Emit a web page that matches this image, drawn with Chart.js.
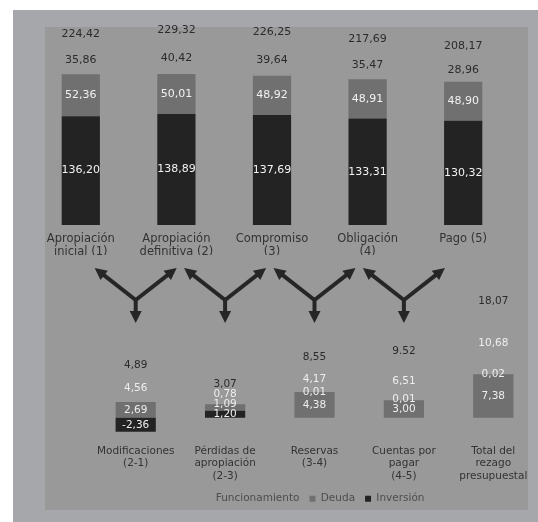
<!DOCTYPE html>
<html>
<head>
<meta charset="utf-8">
<script src="https://cdn.jsdelivr.net/npm/chart.js@4/dist/chart.umd.min.js"></script>
<style>
  body { margin: 0; background: #ffffff; width: 538px; height: 522px; overflow: hidden; position: relative; }
  #frame { position: absolute; left: 13px; top: 10px; width: 525px; height: 512px; background: #a6a7ab; }
  #panel { position: absolute; left: 45px; top: 27px; width: 483px; height: 483px; background: #999999; }
  #top_wrap { position: absolute; left: 0; top: 0; width: 538px; height: 262px; }
  #bottom_wrap { position: absolute; left: 0; top: 255px; width: 560px; height: 267px; }
</style>
</head>
<body>
<div id="frame"></div>
<div id="panel"></div>
<div id="top_wrap"><canvas id="top_chart"></canvas></div>
<div id="bottom_wrap"><canvas id="bottom_chart"></canvas></div>
<script>
// execution stages (billions)
const top_categories = [['Apropiación', 'inicial (1)'], ['Apropiación', 'definitiva (2)'], ['Compromiso', '(3)'], ['Obligación', '(4)'], ['Pago (5)']];
const top_inversion = [136.20, 138.89, 137.69, 133.31, 130.32];
const top_deuda = [52.36, 50.01, 48.92, 48.91, 48.90];
const top_funcionamiento = [35.86, 40.42, 39.64, 35.47, 28.96];
const top_totals = ['224,42', '229,32', '226,25', '217,69', '208,17'];

// differences between stages
const bottom_categories = [['Modificaciones', '(2-1)'], ['Pérdidas de', 'apropiación', '(2-3)'], ['Reservas', '(3-4)'], ['Cuentas por', 'pagar', '(4-5)'], ['Total del', 'rezago', 'presupuestal']];
const bottom_inversion = [-2.36, 1.20, 4.38, 3.00, 7.38];
const bottom_deuda = [2.69, 1.09, 0.01, 0.01, 0.02];
const bottom_funcionamiento = [4.56, 0.78, 4.17, 6.51, 10.68];
const bottom_totals = ['4,89', '3,07', '8,55', '9.52', '18,07'];

const panel_bg = '#999999';
const deuda_color = '#707070';
const inversion_color = '#232323';

const fmt = v => v.toFixed(2).replace('.', ',');

// writes the value of every segment and the total over each stack
const value_labels = {
    id: 'value_labels',
    afterDatasetsDraw(chart, args, opts) {
        const ctx = chart.ctx;
        ctx.save();
        ctx.font = opts.font;
        ctx.textAlign = 'center';
        ctx.textBaseline = 'middle';
        chart.data.labels.forEach((_, i) => {
            let last = Infinity;
            let top_y = Infinity;
            let x = 0;
            chart.data.datasets.forEach((ds, d) => {
                const el = chart.getDatasetMeta(d).data[i];
                x = el.x;
                top_y = Math.min(top_y, el.y, el.base);
                let y = (el.y + el.base) / 2;
                if (y > last - opts.min_gap) y = last - opts.min_gap;
                last = y;
                ctx.fillStyle = opts.colors[d];
                ctx.fillText(fmt(ds.data[i]), x, y);
            });
            let ty = top_y - opts.total_offset;
            if (ty > last - opts.min_gap) ty = last - opts.min_gap;
            ctx.fillStyle = '#2b2b2b';
            ctx.fillText(opts.totals[i], x, ty);
        });
        ctx.restore();
    }
};

// Y shaped arrows linking two stages with their difference
const arrows = {
    id: 'arrows',
    afterDraw(chart) {
        const ctx = chart.ctx;
        const top = chart.chartArea.top;
        ctx.save();
        ctx.strokeStyle = '#262626';
        ctx.fillStyle = '#262626';
        ctx.lineWidth = 4;
        const head = (x0, y0, x1, y1) => {
            const a = Math.atan2(y1 - y0, x1 - x0);
            ctx.beginPath();
            ctx.moveTo(x0, y0);
            ctx.lineTo(x1 - 8 * Math.cos(a), y1 - 8 * Math.sin(a));
            ctx.stroke();
            ctx.beginPath();
            ctx.moveTo(x1, y1);
            ctx.lineTo(x1 - 12 * Math.cos(a) + 6 * Math.sin(a), y1 - 12 * Math.sin(a) - 6 * Math.cos(a));
            ctx.lineTo(x1 - 12 * Math.cos(a) - 6 * Math.sin(a), y1 - 12 * Math.sin(a) + 6 * Math.cos(a));
            ctx.closePath();
            ctx.fill();
        };
        for (let i = 0; i < 4; i++) {
            const xj = chart.scales.x.getPixelForValue(i);
            head(xj, top, xj - 41, top - 32);
            head(xj, top, xj + 41, top - 32);
            head(xj, top - 2, xj, top + 23);
        }
        ctx.restore();
    }
};

new Chart(document.getElementById('top_chart').getContext('2d'), {
    type: 'bar',
    data: {
        labels: top_categories,
        datasets: [
            { label: 'Inversión', data: top_inversion, backgroundColor: inversion_color },
            { label: 'Deuda', data: top_deuda, backgroundColor: deuda_color },
            { label: 'Funcionamiento', data: top_funcionamiento, backgroundColor: panel_bg }
        ]
    },
    options: {
        responsive: true,
        maintainAspectRatio: false,
        animation: false,
        layout: { padding: { left: 33, right: 27, top: 26, bottom: 7 } },
        datasets: { bar: { barPercentage: 0.8, categoryPercentage: 0.5, borderWidth: 0 } },
        scales: {
            x: {
                stacked: true,
                grid: { display: false, drawTicks: false },
                border: { display: false },
                ticks: { color: '#333333', padding: 8, maxRotation: 0, autoSkip: false,
                         font: { family: 'DejaVu Sans', size: 11.5, lineHeight: 1.1 } },
                afterFit: s => { s.height = 30; }
            },
            y: { stacked: true, display: false, min: 0, max: 249 }
        },
        plugins: {
            legend: { display: false },
            tooltip: { enabled: false },
            value_labels: {
                font: '11px "DejaVu Sans"',
                colors: ['#f2f2f2', '#f2f2f2', '#2b2b2b'],
                totals: top_totals,
                total_offset: 12,
                min_gap: 0
            }
        }
    },
    plugins: [value_labels]
});

new Chart(document.getElementById('bottom_chart').getContext('2d'), {
    type: 'bar',
    data: {
        labels: bottom_categories,
        datasets: [
            { label: 'Inversión', data: bottom_inversion,
              backgroundColor: [inversion_color, inversion_color, deuda_color, deuda_color, deuda_color] },
            { label: 'Deuda', data: bottom_deuda, backgroundColor: deuda_color },
            { label: 'Funcionamiento', data: bottom_funcionamiento, backgroundColor: panel_bg }
        ]
    },
    options: {
        responsive: true,
        maintainAspectRatio: false,
        animation: false,
        layout: { padding: { left: 91, right: 22, top: 45, bottom: 8 } },
        datasets: { bar: { barPercentage: 0.9, categoryPercentage: 0.5, borderWidth: 0 } },
        scales: {
            x: {
                stacked: true,
                grid: { display: false, drawTicks: false },
                border: { display: false },
                ticks: { color: '#333333', padding: 9, maxRotation: 0, autoSkip: false,
                         font: { family: 'DejaVu Sans', size: 10.5, lineHeight: 1.2 } },
                afterFit: s => { s.height = 48; }
            },
            y: { stacked: true, display: false, min: -3, max: 20 }
        },
        plugins: {
            legend: {
                position: 'bottom',
                reverse: true,
                labels: { boxWidth: 6, boxHeight: 6, padding: 10, color: '#4d4d4d',
                          font: { family: 'DejaVu Sans', size: 10.5 } }
            },
            tooltip: { enabled: false },
            value_labels: {
                font: '10.5px "DejaVu Sans"',
                colors: ['#eeeeee', '#eeeeee', '#eeeeee'],
                totals: bottom_totals,
                total_offset: 10,
                min_gap: 10
            }
        }
    },
    plugins: [value_labels, arrows]
});
</script>
</body>
</html>
